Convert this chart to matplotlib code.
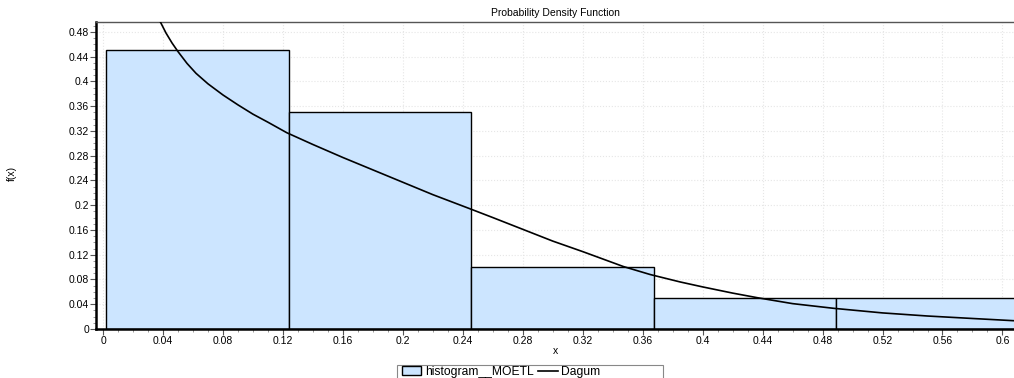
import matplotlib.pyplot as plt
from matplotlib.patches import Rectangle
from matplotlib.ticker import MultipleLocator, FuncFormatter

plt.rcParams['font.family'] = ['Liberation Sans', 'DejaVu Sans']

# histogram bins (left edges) and heights
bin_left = [0.002, 0.1238, 0.2456, 0.3674, 0.4892]
bin_width = 0.1218
bin_height = [0.45, 0.35, 0.10, 0.05, 0.05]

# Dagum curve, points
curve_x = [0.038, 0.042, 0.046, 0.050, 0.056, 0.062, 0.070, 0.080, 0.090, 0.100,
           0.110, 0.1226, 0.140, 0.160, 0.180, 0.200, 0.220, 0.2439, 0.260, 0.280,
           0.300, 0.320, 0.347, 0.365, 0.385, 0.400, 0.420, 0.4364, 0.460, 0.4875,
           0.520, 0.550, 0.580, 0.6077]
curve_y = [0.497, 0.478, 0.462, 0.448, 0.429, 0.413, 0.396, 0.378, 0.362, 0.347,
           0.334, 0.317, 0.298, 0.277, 0.257, 0.237, 0.217, 0.195, 0.180, 0.161,
           0.142, 0.125, 0.101, 0.088, 0.076, 0.068, 0.058, 0.0506, 0.041, 0.0334,
           0.026, 0.021, 0.017, 0.0134]

fig = plt.figure(figsize=(10.14, 3.78), dpi=100)
ax = fig.add_axes([0.0947, 0.1296, 0.9053, 0.8124])

bars = ax.bar(bin_left, bin_height, width=bin_width, align='edge', color='#cce5ff',
              edgecolor='black', linewidth=1.0, label='histogram__MOETL', zorder=2)
line, = ax.plot(curve_x, curve_y, color='black', linewidth=1.2, label='Dagum', zorder=3)

ax.set_xlim(-0.0047, 0.6077)
ax.set_ylim(0, 0.496)
ax.xaxis.set_major_locator(MultipleLocator(0.04))
ax.xaxis.set_minor_locator(MultipleLocator(0.01))
ax.yaxis.set_major_locator(MultipleLocator(0.04))
ax.yaxis.set_minor_locator(MultipleLocator(0.01))
fmt = FuncFormatter(lambda v, p: '%g' % round(v, 4))
ax.xaxis.set_major_formatter(fmt)
ax.yaxis.set_major_formatter(fmt)
ax.tick_params(which='major', direction='out', length=4, width=0.8, color='#555555',
               labelsize=7.5, pad=1)
ax.tick_params(which='minor', direction='out', length=2, width=0.6, color='#888888')

ax.grid(True, which='major', color='#e6e6e6', linestyle=':', linewidth=0.8, zorder=0)
ax.set_axisbelow(True)

for side in ['left', 'bottom']:
    ax.spines[side].set_linewidth(1.8)
    ax.spines[side].set_color('black')
ax.spines['top'].set_color('#555555')
ax.spines['top'].set_linewidth(1.0)
ax.spines['right'].set_visible(False)

ax.set_title('Probability Density Function', fontsize=7.5, pad=4)
ax.set_xlabel('x', fontsize=7.5, labelpad=0)
fig.text(0.012, 0.54, 'f(x)', rotation=90, fontsize=7.5, ha='center', va='center')

# legend box below the plot (wider than its entries, as in the original)
fig.patches.append(Rectangle((0.3915, -0.01), 0.2625, 0.044, transform=fig.transFigure,
                             facecolor='white', edgecolor='#888888', linewidth=0.8))
leg = fig.legend(handles=[bars, line], loc='center left', bbox_to_anchor=(0.395, 0.016),
                 ncol=2, fontsize=8.7, frameon=False, borderpad=0.1,
                 handlelength=1.6, handleheight=0.7, columnspacing=0.4,
                 handletextpad=0.3, borderaxespad=0)

fig.savefig('out.png', dpi=100)
